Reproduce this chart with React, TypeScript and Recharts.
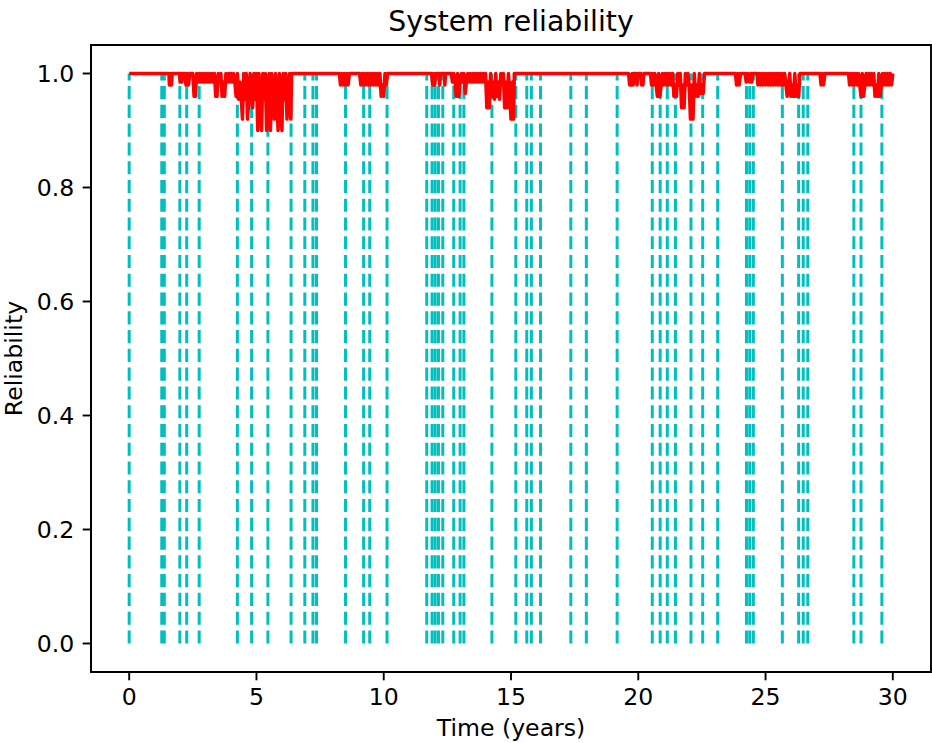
import React from 'react';
import { LineChart, Line, XAxis, YAxis, ReferenceArea } from 'recharts';

const FONT = '"DejaVu Sans", "Liberation Sans", sans-serif';

// Times (years) of the cyan dashed failure markers
const failureTimes = [
  0, 1.28, 1.38, 1.99, 2.26, 2.75, 4.25, 4.81, 5.45, 6.36, 6.9, 7.22, 7.36,
  8.5, 9.21, 9.45, 10.13, 11.69, 11.9, 12.02, 12.15, 12.32, 12.75, 13.0, 13.15,
  14.25, 15.19, 15.62, 15.8, 16.16, 17.35, 17.96, 19.17, 20.55, 20.86, 21.14,
  21.46, 22.07, 22.53, 23.12, 24.25, 24.38, 24.52, 25.66, 26.3, 26.48, 26.66,
  28.47, 28.75, 29.57,
];

const xTicks = [0, 5, 10, 15, 20, 25, 30];
const yTicks = [0, 0.2, 0.4, 0.6, 0.8, 1.0];

// Reliability samples [time, reliability], region by region
const relStart: [number, number][] = [
  [0, 1], [1.56, 1], [1.58, 0.98], [1.62, 0.98], [1.64, 1], [1.66, 0.98], [1.69, 1],
  [1.98, 1], [2.0, 0.985], [2.03, 1], [2.07, 0.985], [2.1, 1],
  [2.2, 1], [2.23, 0.98], [2.28, 1], [2.33, 0.98], [2.38, 1],
];

const relEarlyBurst: [number, number][] = [
  [2.5, 1], [2.55, 0.96], [2.6, 0.96], [2.65, 1], [2.7, 0.985], [2.75, 1], [2.8, 0.985],
  [2.85, 1], [2.9, 0.985], [2.95, 1], [3.0, 0.985], [3.05, 1], [3.1, 0.985], [3.15, 1],
  [3.2, 0.985], [3.25, 1], [3.3, 0.985], [3.35, 1], [3.4, 0.96], [3.45, 0.96], [3.5, 1],
  [3.55, 0.985], [3.6, 1], [3.65, 0.96], [3.7, 0.985], [3.75, 0.96], [3.8, 1], [3.85, 0.985],
  [3.9, 1], [3.95, 0.985], [4.0, 1], [4.05, 0.985], [4.1, 1], [4.15, 0.985], [4.2, 0.96],
  [4.25, 1], [4.3, 0.955], [4.35, 0.985], [4.4, 0.96], [4.45, 0.92], [4.5, 1], [4.55, 0.955],
  [4.6, 1], [4.65, 0.92], [4.7, 0.955], [4.75, 1], [4.8, 0.955], [4.85, 0.94], [4.9, 1],
  [4.95, 0.955], [5.0, 1], [5.05, 0.9], [5.1, 1], [5.15, 0.955], [5.2, 0.9], [5.25, 1],
  [5.3, 0.955], [5.35, 1], [5.4, 0.9], [5.45, 0.955], [5.5, 1], [5.55, 0.9], [5.6, 1],
  [5.65, 0.955], [5.7, 0.92], [5.75, 1], [5.8, 0.955], [5.85, 0.9], [5.9, 1], [5.95, 0.955],
  [6.0, 0.9], [6.05, 1], [6.1, 0.955], [6.15, 1], [6.2, 0.92], [6.25, 0.955], [6.3, 1],
  [6.35, 0.92], [6.38, 1],
];

const relYear9: [number, number][] = [
  [8.26, 1], [8.3, 0.98], [8.35, 1], [8.4, 0.98], [8.45, 1], [8.5, 0.98], [8.55, 1], [8.6, 0.98], [8.65, 1],
  [9.05, 1], [9.1, 0.98], [9.15, 1], [9.2, 0.98], [9.25, 1], [9.3, 0.98], [9.35, 1], [9.4, 0.98],
  [9.45, 1], [9.5, 0.98], [9.55, 1], [9.6, 0.98], [9.65, 1], [9.7, 0.98], [9.75, 1], [9.8, 0.98],
  [9.85, 1], [9.9, 0.96], [9.95, 0.98], [10.0, 0.96], [10.05, 1], [10.1, 0.98], [10.15, 1],
];

const relYear13: [number, number][] = [
  [11.88, 1], [11.92, 0.98], [11.96, 1], [12.0, 0.98], [12.05, 1], [12.18, 1], [12.2, 0.98],
  [12.23, 1], [12.38, 1], [12.4, 0.98], [12.43, 1],
  [12.65, 1], [12.7, 0.985], [12.75, 1], [12.8, 0.985], [12.85, 0.96], [12.9, 1], [12.95, 0.96],
  [13.0, 0.985], [13.05, 1], [13.1, 0.985], [13.15, 1], [13.2, 0.965], [13.25, 0.985], [13.3, 1],
  [13.35, 0.985], [13.4, 1], [13.45, 0.985], [13.5, 1], [13.55, 0.985], [13.6, 1], [13.65, 0.985],
  [13.7, 1], [13.75, 0.985], [13.8, 1], [13.85, 0.985], [13.9, 1], [13.95, 0.985], [14.0, 1],
  [14.05, 0.94], [14.1, 0.985], [14.15, 0.94], [14.2, 1], [14.25, 0.96], [14.3, 0.985],
  [14.35, 0.955], [14.4, 1], [14.45, 0.96], [14.5, 0.985], [14.55, 0.955], [14.6, 1],
  [14.65, 0.985], [14.7, 1], [14.75, 0.94], [14.8, 0.985], [14.85, 0.94], [14.9, 1],
  [14.95, 0.96], [15.0, 0.92], [15.05, 0.985], [15.1, 0.92], [15.13, 1],
];

const relYear21: [number, number][] = [
  [19.62, 1], [19.66, 0.98], [19.72, 0.98], [19.76, 1], [19.8, 0.98], [19.84, 1],
  [19.92, 1], [19.95, 0.98], [19.99, 1], [20.1, 1], [20.13, 0.98], [20.18, 0.98], [20.22, 1],
  [20.48, 1], [20.52, 0.98], [20.56, 1], [20.6, 0.98], [20.65, 1], [20.7, 0.98], [20.75, 0.96],
  [20.8, 1], [20.85, 0.96], [20.9, 0.98], [20.95, 1], [21.0, 0.98], [21.05, 1], [21.1, 0.98],
  [21.15, 1], [21.2, 0.98], [21.25, 1], [21.3, 0.98], [21.35, 1], [21.4, 0.96], [21.45, 0.98],
  [21.5, 0.96], [21.55, 1], [21.6, 0.98], [21.65, 1], [21.7, 0.94], [21.75, 0.98], [21.8, 0.94],
  [21.85, 1], [21.9, 0.98], [21.95, 1], [22.0, 0.98], [22.05, 0.92], [22.1, 0.98], [22.15, 0.92],
  [22.2, 1], [22.25, 0.96], [22.3, 0.98], [22.35, 0.96], [22.4, 1], [22.45, 0.965], [22.5, 0.98],
  [22.55, 0.965], [22.6, 1],
];

const relLate: [number, number][] = [
  [23.82, 1], [23.86, 0.98], [23.92, 1], [23.96, 0.98], [24.02, 1],
  [24.2, 1], [24.24, 0.985], [24.3, 1], [24.36, 0.985], [24.42, 1], [24.46, 0.985], [24.5, 1],
  [24.66, 1], [24.7, 0.98], [24.75, 1], [24.8, 0.98], [24.85, 1], [24.9, 0.98], [24.95, 1],
  [25.0, 0.98], [25.05, 1], [25.1, 0.98], [25.15, 1], [25.2, 0.98], [25.25, 1], [25.3, 0.98],
  [25.35, 1], [25.4, 0.98], [25.45, 1], [25.5, 0.98], [25.55, 1], [25.6, 0.98], [25.65, 1],
  [25.7, 0.98], [25.75, 1], [25.8, 0.98], [25.85, 0.96], [25.9, 0.98], [25.95, 1], [26.0, 0.96],
  [26.05, 0.98], [26.1, 0.96], [26.15, 1], [26.2, 0.96], [26.25, 0.98], [26.3, 0.96], [26.35, 1],
  [27.14, 1], [27.18, 0.98], [27.24, 1], [27.28, 0.98], [27.33, 1],
  [28.26, 1], [28.3, 0.98], [28.35, 1], [28.4, 0.98], [28.45, 1], [28.5, 0.98], [28.55, 1],
  [28.6, 0.98], [28.65, 1], [28.7, 0.98], [28.75, 0.96], [28.8, 1], [28.85, 0.96], [28.9, 0.98],
  [28.95, 1], [29.0, 0.98], [29.05, 1], [29.1, 0.98], [29.15, 1], [29.2, 0.98], [29.25, 1],
  [29.3, 0.96], [29.35, 0.98], [29.4, 0.96], [29.45, 1], [29.5, 0.96], [29.55, 0.98], [29.6, 1],
  [29.65, 0.98], [29.7, 1], [29.75, 0.98], [29.8, 1], [29.85, 0.98], [29.9, 1], [29.95, 0.98],
  [30.0, 1],
];

const reliabilityData = [
  ...relStart, ...relEarlyBurst, ...relYear9, ...relYear13, ...relYear21, ...relLate,
].map(([t, r]) => ({ t, r }));

const tickStyle = { fontSize: 23.6, fill: '#000', fontFamily: FONT };
const lineStyle = { stroke: '#000', strokeWidth: 1.9 };

export default function App() {
  return (
    <div style={{ position: 'absolute', left: 0, top: 0, width: 932, height: 743, background: '#fff' }}>
      <LineChart
        width={932}
        height={743}
        data={reliabilityData}
        margin={{ top: 45, right: 1, bottom: 0, left: 0 }}
      >
        <XAxis
          dataKey="t"
          type="number"
          domain={[-1.5, 31.5]}
          allowDataOverflow
          ticks={xTicks}
          height={71}
          tick={tickStyle}
          tickLine={lineStyle}
          axisLine={lineStyle}
          tickSize={8.3}
          tickMargin={8.3}
        />
        <YAxis
          type="number"
          domain={[-0.05, 1.05]}
          allowDataOverflow
          ticks={yTicks}
          width={91}
          tick={tickStyle}
          tickLine={lineStyle}
          axisLine={lineStyle}
          tickSize={8.3}
          tickMargin={8.3}
          tickFormatter={(v: number) => v.toFixed(1)}
        />
        {failureTimes.map((ft) => (
          <Line
            key={`f-${ft}`}
            data={[{ t: ft, r: 0 }, { t: ft, r: 1 }]}
            dataKey="r"
            type="linear"
            stroke="#00bfbf"
            strokeWidth={3}
            strokeDasharray="13.1 5.67"
            dot={false}
            activeDot={false}
            isAnimationActive={false}
          />
        ))}
        <Line
          dataKey="r"
          type="linear"
          stroke="#ff0000"
          strokeWidth={3.5}
          strokeLinejoin="round"
          dot={false}
          activeDot={false}
          isAnimationActive={false}
        />
        <ReferenceArea
          x1={-1.5}
          x2={31.5}
          y1={-0.05}
          y2={1.05}
          fill="none"
          fillOpacity={0}
          stroke="#000"
          strokeWidth={1.9}
        />
      </LineChart>
      <svg
        width={932}
        height={743}
        style={{ position: 'absolute', left: 0, top: 0, pointerEvents: 'none' }}
      >
        <text x={511} y={31} textAnchor="middle" fontFamily={FONT} fontSize={28.3} fill="#000">
          System reliability
        </text>
        <text x={511} y={736} textAnchor="middle" fontFamily={FONT} fontSize={23.6} fill="#000">
          Time (years)
        </text>
        <text
          transform="translate(22, 358.5) rotate(-90)"
          textAnchor="middle"
          fontFamily={FONT}
          fontSize={23.6}
          fill="#000"
        >
          Reliability
        </text>
      </svg>
    </div>
  );
}
